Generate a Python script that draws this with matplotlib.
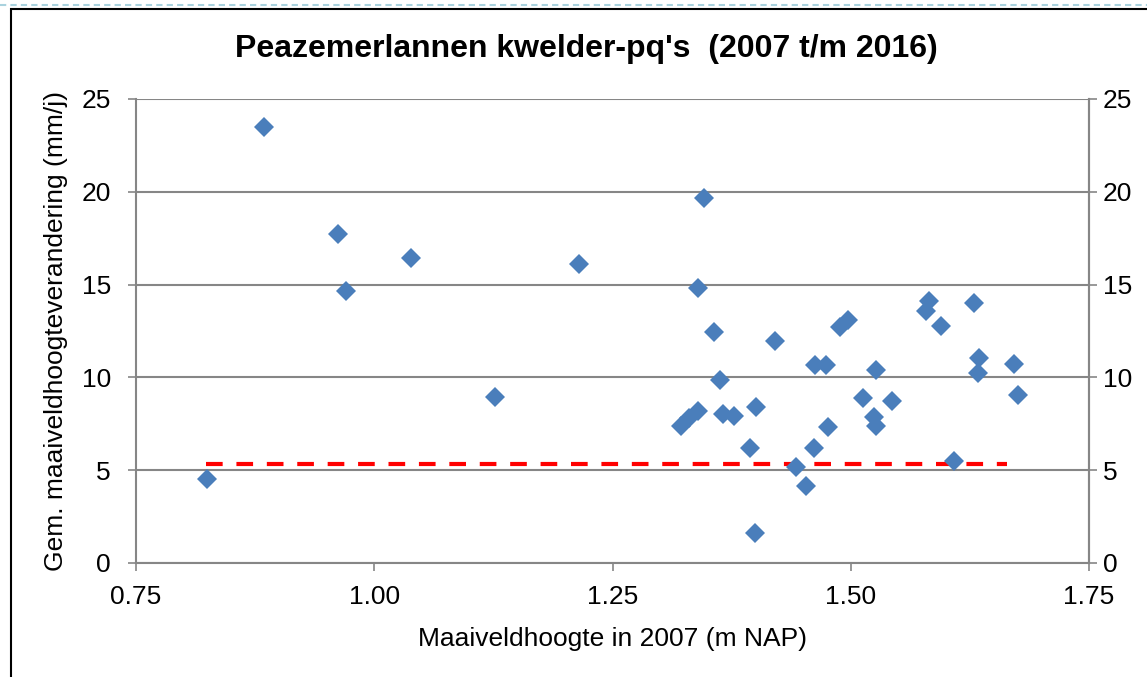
import matplotlib
matplotlib.use("Agg")
import matplotlib.pyplot as plt
from matplotlib.patches import Rectangle
from matplotlib.lines import Line2D

plt.rcParams['font.family'] = ['Liberation Sans', 'DejaVu Sans']

title = "Peazemerlannen kwelder-pq's  (2007 t/m 2016)"
x_label = "Maaiveldhoogte in 2007 (m NAP)"
y_label = "Gem. maaiveldhoogteverandering (mm/j)"

hoogte_2007 = [0.825, 0.884, 0.962, 0.970, 1.039, 1.127, 1.215, 1.322, 1.330,
               1.340, 1.340, 1.346, 1.356, 1.363, 1.366, 1.378, 1.394, 1.400,
               1.401, 1.420, 1.443, 1.453, 1.461, 1.462, 1.474, 1.476, 1.489,
               1.497, 1.513, 1.524, 1.527, 1.526, 1.543, 1.579, 1.582, 1.595,
               1.608, 1.629, 1.634, 1.635, 1.671, 1.675]
verandering = [4.50, 23.50, 17.70, 14.65, 16.45, 8.95, 16.10, 7.40, 7.80,
               8.21, 14.83, 19.68, 12.46, 9.86, 8.01, 7.92, 6.18, 1.63,
               8.41, 11.96, 5.16, 4.15, 6.21, 10.65, 10.65, 7.31, 12.73,
               13.09, 8.91, 7.85, 7.40, 10.40, 8.71, 13.60, 14.13, 12.79,
               5.50, 13.99, 10.24, 11.06, 10.74, 9.05]

ref_x = [0.8235, 1.664]
ref_y = [5.32, 5.32]

x_ticks = [0.75, 1.00, 1.25, 1.50, 1.75]
x_ticklabels = ["0.75", "1.00", "1.25", "1.50", "1.75"]
y_ticks = [0, 5, 10, 15, 20, 25]

W, H = 1147, 677
fig = plt.figure(figsize=(W / 100, H / 100), dpi=100)
ax = fig.add_axes([136 / W, 1 - 563 / H, (1089 - 136) / W, (563 - 99) / H])

grid_col = '#868686'
fs = 19
ax.set_xlim(0.75, 1.75)
ax.set_ylim(0, 25)
ax.set_yticks(y_ticks)
ax.set_xticks(x_ticks)
ax.set_xticklabels(x_ticklabels)
ax.grid(axis='y', color=grid_col, lw=1.5, zorder=0)
ax.set_axisbelow(True)
ax.spines['top'].set_visible(False)
for s in ['left', 'right', 'bottom']:
    ax.spines[s].set_color(grid_col)
    ax.spines[s].set_linewidth(1.5)

ax.tick_params(axis='both', direction='out', length=6, width=1.2, color=grid_col,
               labelsize=fs, labelcolor='black')
ax.tick_params(axis='y', pad=12)
ax.tick_params(axis='x', pad=10)

ax2 = ax.twinx()
ax2.set_ylim(0, 25)
ax2.set_yticks(y_ticks)
for s in ['top', 'left', 'bottom']:
    ax2.spines[s].set_visible(False)
ax2.spines['right'].set_color(grid_col)
ax2.spines['right'].set_linewidth(1.5)
ax2.tick_params(axis='y', direction='out', length=6, width=1.2, color=grid_col,
                labelsize=fs, labelcolor='black', pad=4)

ax.plot(ref_x, ref_y, color='#FF0000', lw=3, dashes=(4, 3.3),
        solid_capstyle='butt', dash_capstyle='butt', zorder=2)
ax.plot(hoogte_2007, verandering, linestyle='none', marker='D', ms=10.5,
        color='#4A7EBB', mec='#4A7EBB', mew=0, zorder=3, clip_on=False)

ax.set_xlabel(x_label, fontsize=fs, labelpad=13)
ax.set_ylabel(y_label, fontsize=fs, labelpad=10)

fig.text(586 / W, 1 - 49 / H, title, ha='center', va='center',
         fontsize=23, fontweight='bold')

# chart frame
fig.add_artist(Rectangle((11 / W, -0.05), 1.1, 1 - 9 / H + 0.05,
                         transform=fig.transFigure, fill=False,
                         edgecolor='black', lw=1.5))
fig.add_artist(Line2D([0, 1], [1 - 5 / H, 1 - 5 / H], transform=fig.transFigure,
                      color='#A9D2DE', lw=1.5, dashes=(3, 2)))

fig.savefig("out.png", dpi=100)
